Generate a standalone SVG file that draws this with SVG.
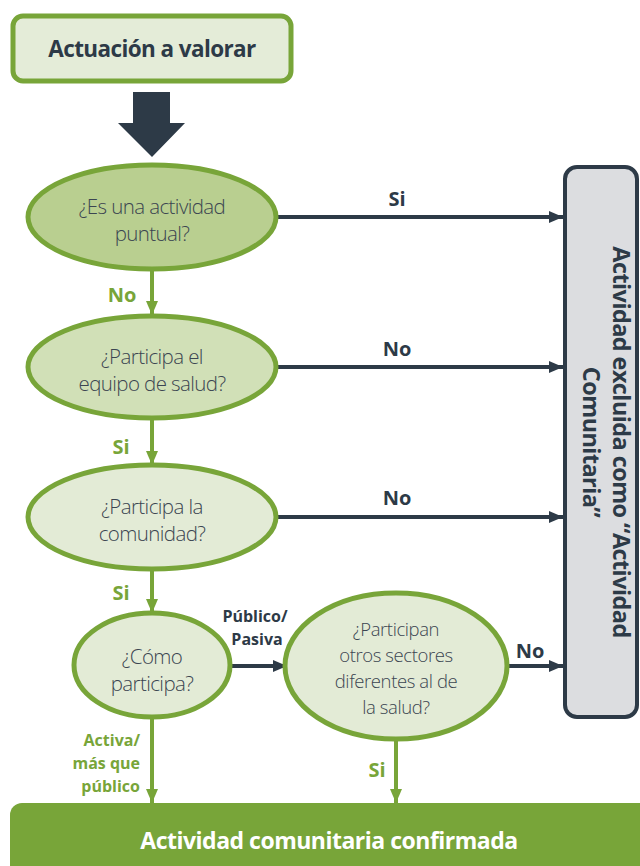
<svg xmlns="http://www.w3.org/2000/svg" width="640" height="866" viewBox="0 0 640 866">
  <style>
    .q { font-family: "Open Sans", "Noto Sans", sans-serif; font-weight: 300; font-size: 20.5px; fill: #3b4551; text-anchor: middle; letter-spacing: -0.6px; }
    .q.s { font-size: 18.5px; letter-spacing: -0.4px; }
    .dk { font-family: "Open Sans", "Noto Sans", sans-serif; font-weight: bold; fill: #2d3a47; }
    .gn { font-family: "Open Sans", "Noto Sans", sans-serif; font-weight: bold; fill: #78a539; }
    .ell { stroke: #78a539; stroke-width: 5; }
    .dline { stroke: #2d3a47; stroke-width: 4; fill: none; }
    .gline { stroke: #78a539; stroke-width: 4; fill: none; }
  </style>
  <defs>
    <marker id="ahDark" markerUnits="userSpaceOnUse" markerWidth="16" markerHeight="14" refX="14" refY="7" orient="auto">
      <path d="M0,1 L14,7 L0,13 Z" fill="#2d3a47"/>
    </marker>
    <marker id="ahGreen" markerUnits="userSpaceOnUse" markerWidth="16" markerHeight="14" refX="14" refY="7" orient="auto">
      <path d="M0,1 L14,7 L0,13 Z" fill="#78a539"/>
    </marker>
  </defs>

  <!-- start box -->
  <g id="start">
    <rect x="13" y="16" width="278" height="65" rx="10" fill="#e4ecd8" stroke="#78a539" stroke-width="5"/>
    <text x="152" y="57" class="dk" font-size="22.5" text-anchor="middle" letter-spacing="-0.6">Actuación a valorar</text>
  </g>

  <!-- connectors -->
  <g id="connectors">
    <polygon points="133,92 170,92 170,123 185,123 152,157 118,123 133,123" fill="#2d3a47"/>
    <line class="dline" x1="277" y1="217" x2="563" y2="217" marker-end="url(#ahDark)"/>
    <line class="dline" x1="277" y1="367" x2="563" y2="367" marker-end="url(#ahDark)"/>
    <line class="dline" x1="277" y1="517" x2="563" y2="517" marker-end="url(#ahDark)"/>
    <line class="dline" x1="230" y1="666" x2="287" y2="666" marker-end="url(#ahDark)"/>
    <line class="dline" x1="507" y1="666" x2="563" y2="666" marker-end="url(#ahDark)"/>
    <line class="gline" x1="152" y1="270" x2="152" y2="315" marker-end="url(#ahGreen)"/>
    <line class="gline" x1="152" y1="419" x2="152" y2="465" marker-end="url(#ahGreen)"/>
    <line class="gline" x1="152" y1="570" x2="152" y2="613" marker-end="url(#ahGreen)"/>
    <line class="gline" x1="152" y1="718" x2="152" y2="803" marker-end="url(#ahGreen)"/>
    <line class="gline" x1="396" y1="740" x2="396" y2="803" marker-end="url(#ahGreen)"/>

    <text x="397" y="206" class="dk" font-size="20" text-anchor="middle">Si</text>
    <text x="397" y="356" class="dk" font-size="20" text-anchor="middle">No</text>
    <text x="397" y="505" class="dk" font-size="20" text-anchor="middle">No</text>
    <text x="530" y="658" class="dk" font-size="20" text-anchor="middle">No</text>
    <text x="255" y="622" class="dk" font-size="16" text-anchor="middle">Público/</text>
    <text x="257" y="645" class="dk" font-size="16" text-anchor="middle">Pasiva</text>

    <text x="122" y="302" class="gn" font-size="20" text-anchor="middle">No</text>
    <text x="121" y="454" class="gn" font-size="20" text-anchor="middle">Si</text>
    <text x="121" y="600" class="gn" font-size="20" text-anchor="middle">Si</text>
    <text x="377" y="777" class="gn" font-size="20" text-anchor="middle">Si</text>
    <text x="140" y="746" class="gn" font-size="16" text-anchor="end">Activa/</text>
    <text x="140" y="769" class="gn" font-size="16" text-anchor="end">más que</text>
    <text x="140" y="792" class="gn" font-size="16" text-anchor="end">público</text>
  </g>

  <!-- decision: punctual activity -->
  <g id="q-puntual">
    <ellipse class="ell" cx="152" cy="217" rx="124" ry="52" fill="#b9cf90"/>
    <text class="q" x="152" y="214">¿Es una actividad</text>
    <text class="q" x="152" y="241">puntual?</text>
  </g>

  <!-- decision: health team -->
  <g id="q-equipo">
    <ellipse class="ell" cx="152" cy="367" rx="124" ry="51" fill="#d1e0b7"/>
    <text class="q" x="152" y="364">¿Participa el</text>
    <text class="q" x="152" y="391">equipo de salud?</text>
  </g>

  <!-- decision: community -->
  <g id="q-comunidad">
    <ellipse class="ell" cx="152" cy="517" rx="124" ry="52" fill="#e3ebd6"/>
    <text class="q" x="152" y="514">¿Participa la</text>
    <text class="q" x="152" y="541">comunidad?</text>
  </g>

  <!-- decision: how -->
  <g id="q-como">
    <ellipse class="ell" cx="152" cy="665" rx="78" ry="52" fill="#e3ebd6"/>
    <text class="q" x="152" y="664">¿Cómo</text>
    <text class="q" x="152" y="691">participa?</text>
  </g>

  <!-- decision: other sectors -->
  <g id="q-sectores">
    <ellipse class="ell" cx="396" cy="666" rx="111" ry="73" fill="#e3ebd6"/>
    <text class="q s" x="396" y="636">¿Participan</text>
    <text class="q s" x="396" y="662">otros sectores</text>
    <text class="q s" x="396" y="688">diferentes al de</text>
    <text class="q s" x="396" y="714">la salud?</text>
  </g>

  <!-- excluded outcome -->
  <g id="excluida">
    <rect x="565" y="167" width="72" height="550" rx="12" fill="#dcdde0" stroke="#2d3a47" stroke-width="4"/>
    <g transform="translate(605,442) rotate(90)">
      <text x="0" y="-8" class="dk" font-size="23.5" text-anchor="middle" letter-spacing="-0.6">Actividad excluida como “Actividad</text>
      <text x="0" y="22" class="dk" font-size="23.5" text-anchor="middle" letter-spacing="-0.6">Comunitaria”</text>
    </g>
  </g>

  <!-- confirmed outcome -->
  <g id="confirmada">
    <rect x="10" y="803" width="660" height="90" rx="12" fill="#78a539"/>
    <text x="329" y="849" font-family="Open Sans, Noto Sans, sans-serif" font-weight="bold" font-size="23" fill="#ffffff" text-anchor="middle" letter-spacing="-0.5">Actividad comunitaria confirmada</text>
  </g>
</svg>
